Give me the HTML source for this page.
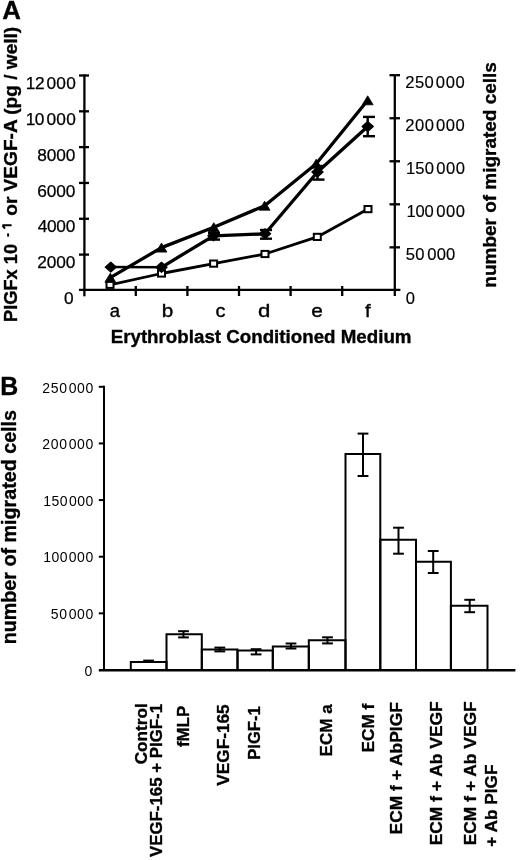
<!DOCTYPE html>
<html><head><meta charset="utf-8"><title>Figure</title>
<style>html,body{margin:0;padding:0;background:#fff;width:520px;height:860px;overflow:hidden}svg{display:block;will-change:transform}text{font-family:"Liberation Sans",sans-serif}</style>
</head><body>
<svg width="520" height="860" viewBox="0 0 520 860">
<rect width="520" height="860" fill="#fff"/>
<g stroke="#000" stroke-width="2.3" fill="none" stroke-linecap="butt">
<line x1="84.4" y1="74.4" x2="84.4" y2="296.3"/>
<line x1="79" y1="75.5" x2="89" y2="75.5"/>
<line x1="79" y1="111.32" x2="89" y2="111.32"/>
<line x1="79" y1="147.14" x2="89" y2="147.14"/>
<line x1="79" y1="182.96" x2="89" y2="182.96"/>
<line x1="79" y1="218.78" x2="89" y2="218.78"/>
<line x1="79" y1="254.6" x2="89" y2="254.6"/>
<line x1="79" y1="289.9" x2="400.4" y2="289.9"/>
<line x1="394.8" y1="75.2" x2="394.8" y2="296"/>
<line x1="389.5" y1="75.2" x2="400" y2="75.2"/>
<line x1="389.5" y1="118.24" x2="400" y2="118.24"/>
<line x1="389.5" y1="161.28" x2="400" y2="161.28"/>
<line x1="389.5" y1="204.32" x2="400" y2="204.32"/>
<line x1="389.5" y1="247.36" x2="400" y2="247.36"/>
<line x1="135.8" y1="286" x2="135.8" y2="296"/>
<line x1="187.4" y1="286" x2="187.4" y2="296"/>
<line x1="239.0" y1="286" x2="239.0" y2="296"/>
<line x1="290.6" y1="286" x2="290.6" y2="296"/>
<line x1="342.2" y1="286" x2="342.2" y2="296"/>
</g>
<polyline points="110,284.8 161.5,273.5 213.6,263.6 265,254 317.3,236.9 368,209.1" fill="none" stroke="#000" stroke-width="2.8" stroke-linejoin="round"/>
<polyline points="110.3,277.7 161.5,247.6 213.8,227.2 264.6,205.7 316.2,163.7 367.7,100.3" fill="none" stroke="#000" stroke-width="3.3" stroke-linejoin="round"/>
<polyline points="110.8,267.1 161.5,267.3" fill="none" stroke="#000" stroke-width="2.5"/>
<polyline points="161.5,267.3 213.5,235.8 265,233.8 317.5,172 367.7,126.5" fill="none" stroke="#000" stroke-width="3.3" stroke-linejoin="round"/>
<g stroke="#000" stroke-width="2.4"><line x1="213.5" y1="233.0" x2="213.5" y2="239.6"/><line x1="208" y1="233.0" x2="220" y2="233.0"/><line x1="208" y1="239.6" x2="220" y2="239.6"/></g>
<g stroke="#000" stroke-width="2.4"><line x1="265" y1="230.0" x2="265" y2="238.7"/><line x1="260" y1="230.0" x2="272" y2="230.0"/><line x1="260" y1="238.7" x2="272" y2="238.7"/></g>
<g stroke="#000" stroke-width="2.4"><line x1="317.5" y1="166.0" x2="317.5" y2="179.6"/><line x1="312.5" y1="166.0" x2="324.5" y2="166.0"/><line x1="312.5" y1="179.6" x2="324.5" y2="179.6"/></g>
<g stroke="#000" stroke-width="2.4"><line x1="367.7" y1="116.9" x2="367.7" y2="136.2"/><line x1="363" y1="116.9" x2="375" y2="116.9"/><line x1="363" y1="136.2" x2="375" y2="136.2"/></g>
<rect x="106.5" y="281.7" width="7" height="6.2" fill="#fff" stroke="#000" stroke-width="2"/>
<rect x="158" y="270.4" width="7" height="6.2" fill="#fff" stroke="#000" stroke-width="2"/>
<rect x="210.1" y="260.5" width="7" height="6.2" fill="#fff" stroke="#000" stroke-width="2"/>
<rect x="261.5" y="250.9" width="7" height="6.2" fill="#fff" stroke="#000" stroke-width="2"/>
<rect x="313.8" y="233.8" width="7" height="6.2" fill="#fff" stroke="#000" stroke-width="2"/>
<rect x="364.5" y="206" width="7" height="6.2" fill="#fff" stroke="#000" stroke-width="2"/>
<polygon points="110.3,273.2 115.7,282.2 104.9,282.2" fill="#000" stroke="#000" stroke-width="0.8" stroke-linejoin="round"/>
<polygon points="161.5,243.1 166.9,252.1 156.1,252.1" fill="#000" stroke="#000" stroke-width="0.8" stroke-linejoin="round"/>
<polygon points="213.8,222.7 219.2,231.7 208.4,231.7" fill="#000" stroke="#000" stroke-width="0.8" stroke-linejoin="round"/>
<polygon points="264.6,201.2 270,210.2 259.2,210.2" fill="#000" stroke="#000" stroke-width="0.8" stroke-linejoin="round"/>
<polygon points="316.2,159.2 321.6,168.2 310.8,168.2" fill="#000" stroke="#000" stroke-width="0.8" stroke-linejoin="round"/>
<polygon points="367.7,95.8 373.1,104.8 362.3,104.8" fill="#000" stroke="#000" stroke-width="0.8" stroke-linejoin="round"/>
<polygon points="110.8,262.1 116.4,267.1 110.8,272.1 105.2,267.1" fill="#000" stroke="#000" stroke-width="1.2" stroke-linejoin="round"/>
<polygon points="161.5,262.3 167.1,267.3 161.5,272.3 155.9,267.3" fill="#000" stroke="#000" stroke-width="1.2" stroke-linejoin="round"/>
<polygon points="213.5,230.8 219.1,235.8 213.5,240.8 207.9,235.8" fill="#000" stroke="#000" stroke-width="1.2" stroke-linejoin="round"/>
<polygon points="265,228.8 270.6,233.8 265,238.8 259.4,233.8" fill="#000" stroke="#000" stroke-width="1.2" stroke-linejoin="round"/>
<polygon points="317.5,167 323.1,172 317.5,177 311.9,172" fill="#000" stroke="#000" stroke-width="1.2" stroke-linejoin="round"/>
<polygon points="367.7,121.5 373.3,126.5 367.7,131.5 362.1,126.5" fill="#000" stroke="#000" stroke-width="1.2" stroke-linejoin="round"/>
<g stroke="#000" stroke-width="2" fill="none">
<line x1="104" y1="385.8" x2="104" y2="670"/>
<line x1="98.8" y1="386.8" x2="104" y2="386.8"/>
<line x1="98.8" y1="443.44" x2="104" y2="443.44"/>
<line x1="98.8" y1="500.08" x2="104" y2="500.08"/>
<line x1="98.8" y1="556.72" x2="104" y2="556.72"/>
<line x1="98.8" y1="613.36" x2="104" y2="613.36"/>
<line x1="98.8" y1="670.3" x2="515.4" y2="670.3" stroke-width="2.4"/>
<polyline points="130.8,670 130.8,662.1 166.5,662.1 166.5,670"/>
<polyline points="166.5,670 166.5,634.2 201.8,634.2 201.8,670"/>
<polyline points="201.8,670 201.8,649.5 237.5,649.5 237.5,670"/>
<polyline points="237.5,670 237.5,650.6 272.8,650.6 272.8,670"/>
<polyline points="272.8,670 272.8,646.4 308.8,646.4 308.8,670"/>
<polyline points="308.8,670 308.8,640.2 345.5,640.2 345.5,670"/>
<polyline points="345.5,670 345.5,454.0 380.3,454.0 380.3,670"/>
<polyline points="380.3,670 380.3,539.8 416.0,539.8 416.0,670"/>
<polyline points="416.0,670 416.0,561.8 450.9,561.8 450.9,670"/>
<polyline points="450.9,670 450.9,605.8 487.5,605.8 487.5,670"/>
</g>
<g stroke="#000" stroke-width="2"><line x1="148.6" y1="660.6" x2="148.6" y2="662.0"/><line x1="143.2" y1="660.6" x2="154" y2="660.6"/><line x1="143.2" y1="662.0" x2="154" y2="662.0"/></g>
<g stroke="#000" stroke-width="2"><line x1="183.5" y1="631.2" x2="183.5" y2="637.4"/><line x1="178.1" y1="631.2" x2="188.9" y2="631.2"/><line x1="178.1" y1="637.4" x2="188.9" y2="637.4"/></g>
<g stroke="#000" stroke-width="2"><line x1="219.8" y1="647.6" x2="219.8" y2="651.4"/><line x1="214.4" y1="647.6" x2="225.2" y2="647.6"/><line x1="214.4" y1="651.4" x2="225.2" y2="651.4"/></g>
<g stroke="#000" stroke-width="2"><line x1="256.1" y1="649.2" x2="256.1" y2="654.4"/><line x1="250.7" y1="649.2" x2="261.5" y2="649.2"/><line x1="250.7" y1="654.4" x2="261.5" y2="654.4"/></g>
<g stroke="#000" stroke-width="2"><line x1="291.0" y1="643.5" x2="291.0" y2="648.5"/><line x1="285.6" y1="643.5" x2="296.4" y2="643.5"/><line x1="285.6" y1="648.5" x2="296.4" y2="648.5"/></g>
<g stroke="#000" stroke-width="2"><line x1="327.5" y1="637.3" x2="327.5" y2="643.4"/><line x1="322.1" y1="637.3" x2="332.9" y2="637.3"/><line x1="322.1" y1="643.4" x2="332.9" y2="643.4"/></g>
<g stroke="#000" stroke-width="2"><line x1="363.0" y1="433.6" x2="363.0" y2="476.0"/><line x1="357.6" y1="433.6" x2="368.4" y2="433.6"/><line x1="357.6" y1="476.0" x2="368.4" y2="476.0"/></g>
<g stroke="#000" stroke-width="2"><line x1="398.5" y1="527.7" x2="398.5" y2="553.7"/><line x1="393.1" y1="527.7" x2="403.9" y2="527.7"/><line x1="393.1" y1="553.7" x2="403.9" y2="553.7"/></g>
<g stroke="#000" stroke-width="2"><line x1="433.2" y1="551.0" x2="433.2" y2="573.0"/><line x1="427.8" y1="551.0" x2="438.6" y2="551.0"/><line x1="427.8" y1="573.0" x2="438.6" y2="573.0"/></g>
<g stroke="#000" stroke-width="2"><line x1="469.7" y1="599.8" x2="469.7" y2="612.2"/><line x1="464.3" y1="599.8" x2="475.1" y2="599.8"/><line x1="464.3" y1="612.2" x2="475.1" y2="612.2"/></g>
<g font-family="Liberation Sans, sans-serif" fill="#000" stroke="#000" stroke-width="0.35" stroke-linejoin="round">
<text x="2.25" y="18.8" font-size="25" font-weight="bold" textLength="18.65" lengthAdjust="spacingAndGlyphs">A</text>
<text transform="translate(16.6,321.88) rotate(-90)" font-size="19" font-weight="bold" textLength="77.91" lengthAdjust="spacingAndGlyphs">PlGFx 10</text>
<path d="M7.1 235 H9.1" stroke="#000" stroke-width="3.2" fill="none"/>
<path d="M11.6 225.3 H2.3 M2.6 225.6 L5.0 228.6" stroke="#000" stroke-width="2.1" fill="none" stroke-linecap="butt"/>
<text transform="translate(16.5,215.76) rotate(-90)" font-size="19" font-weight="bold" textLength="188.97" lengthAdjust="spacingAndGlyphs">or VEGF-A (pg / well)</text>
<text x="25.8" y="89.1" font-size="17.3" letter-spacing="-0.44" stroke-width="0.25">12</text>
<text x="46.41" y="89.1" font-size="17.3" letter-spacing="0.25" stroke-width="0.25">000</text>
<text x="25.8" y="124.92" font-size="17.3" letter-spacing="-0.7" stroke-width="0.25">10</text>
<text x="46.41" y="124.92" font-size="17.3" letter-spacing="0.25" stroke-width="0.25">000</text>
<text x="37.22" y="160.74" font-size="17.3" letter-spacing="-0.14" stroke-width="0.25">8000</text>
<text x="37.13" y="196.56" font-size="17.3" letter-spacing="-0.11" stroke-width="0.25">6000</text>
<text x="37.65" y="232.38" font-size="17.3" letter-spacing="-0.28" stroke-width="0.25">4000</text>
<text x="37.13" y="268.2" font-size="17.3" letter-spacing="-0.11" stroke-width="0.25">2000</text>
<text x="63.91" y="304.02" font-size="17.3" stroke-width="0.25">0</text>
<text x="405.27" y="88.3" font-size="16.6" letter-spacing="0.39" stroke-width="0.15">250</text>
<text x="435.84" y="88.3" font-size="16.6" letter-spacing="0.65" stroke-width="0.15">000</text>
<text x="405.37" y="131.34" font-size="16.6" letter-spacing="0.44" stroke-width="0.15">200</text>
<text x="436.04" y="131.34" font-size="16.6" letter-spacing="0.55" stroke-width="0.15">000</text>
<text x="405.95" y="174.38" font-size="16.6" letter-spacing="0.14" stroke-width="0.15">150</text>
<text x="436.24" y="174.38" font-size="16.6" letter-spacing="0.55" stroke-width="0.15">000</text>
<text x="406.45" y="217.42" font-size="16.6" letter-spacing="-0.21" stroke-width="0.15">100</text>
<text x="436.24" y="217.42" font-size="16.6" letter-spacing="0.55" stroke-width="0.15">000</text>
<text x="405.74" y="260.46" font-size="16.6" letter-spacing="0.22" stroke-width="0.15">50</text>
<text x="427.34" y="260.46" font-size="16.6" letter-spacing="0.15" stroke-width="0.15">000</text>
<text x="405.74" y="303.5" font-size="16.6" stroke-width="0.15">0</text>
<text transform="translate(495.8,287.63) rotate(-90)" font-size="19" font-weight="bold" textLength="225.52" lengthAdjust="spacingAndGlyphs">number of migrated cells</text>
<text x="109.76" y="317.1" font-size="17.5" textLength="10.26" lengthAdjust="spacingAndGlyphs">a</text>
<text x="161.66" y="317.1" font-size="17.5" textLength="11.49" lengthAdjust="spacingAndGlyphs">b</text>
<text x="215.4" y="317.1" font-size="17.5" textLength="10" lengthAdjust="spacingAndGlyphs">c</text>
<text x="258.01" y="317.1" font-size="17.5" textLength="12.36" lengthAdjust="spacingAndGlyphs">d</text>
<text x="311.17" y="317.1" font-size="17.5" textLength="11.6" lengthAdjust="spacingAndGlyphs">e</text>
<text x="365.09" y="317.1" font-size="17.5" textLength="5.66" lengthAdjust="spacingAndGlyphs">f</text>
<text x="110.68" y="343.4" font-size="18" font-weight="bold" textLength="300.86" lengthAdjust="spacingAndGlyphs">Erythroblast Conditioned Medium</text>
<text x="0.28" y="395" font-size="26" font-weight="bold" textLength="18" lengthAdjust="spacingAndGlyphs">B</text>
<text transform="translate(15.8,644.28) rotate(-90)" font-size="20" font-weight="bold" textLength="234.3" lengthAdjust="spacingAndGlyphs">number of migrated cells</text>
<text x="42.3" y="392.5" font-size="14" letter-spacing="0.64" stroke-width="0">250</text>
<text x="68.74" y="392.5" font-size="14" letter-spacing="0.57" stroke-width="0">000</text>
<text x="42.3" y="449.14" font-size="14" letter-spacing="0.64" stroke-width="0">200</text>
<text x="68.74" y="449.14" font-size="14" letter-spacing="0.57" stroke-width="0">000</text>
<text x="43.25" y="505.78" font-size="14" letter-spacing="0.42" stroke-width="0">150</text>
<text x="69.04" y="505.78" font-size="14" letter-spacing="0.42" stroke-width="0">000</text>
<text x="43.25" y="562.42" font-size="14" letter-spacing="0.42" stroke-width="0">100</text>
<text x="68.74" y="562.42" font-size="14" letter-spacing="0.57" stroke-width="0">000</text>
<text x="50.74" y="619.06" font-size="14" letter-spacing="0.61" stroke-width="0">50</text>
<text x="68.74" y="619.06" font-size="14" letter-spacing="0.57" stroke-width="0">000</text>
<text x="84.44" y="675.7" font-size="14" stroke-width="0">0</text>
<text transform="translate(146.8,764.29) rotate(-90)" font-size="17" font-weight="bold" textLength="61.09" lengthAdjust="spacingAndGlyphs">Control</text>
<text transform="translate(162.3,857.08) rotate(-90)" font-size="17" font-weight="bold" textLength="153.13" lengthAdjust="spacingAndGlyphs">VEGF-165 + PlGF-1</text>
<text transform="translate(188.5,747.05) rotate(-90)" font-size="17" font-weight="bold" textLength="41.23" lengthAdjust="spacingAndGlyphs">fMLP</text>
<text transform="translate(228.9,785.69) rotate(-90)" font-size="17" font-weight="bold" textLength="81.3" lengthAdjust="spacingAndGlyphs">VEGF-165</text>
<text transform="translate(259.9,759.68) rotate(-90)" font-size="17" font-weight="bold" textLength="53.33" lengthAdjust="spacingAndGlyphs">PlGF-1</text>
<text transform="translate(332.3,756.41) rotate(-90)" font-size="17" font-weight="bold" textLength="52.16" lengthAdjust="spacingAndGlyphs">ECM a</text>
<text transform="translate(373.7,752.41) rotate(-90)" font-size="17" font-weight="bold" textLength="48.58" lengthAdjust="spacingAndGlyphs">ECM f</text>
<text transform="translate(402.4,834.43) rotate(-90)" font-size="17" font-weight="bold" textLength="132.28" lengthAdjust="spacingAndGlyphs">ECM f + AbPlGF</text>
<text transform="translate(441.9,845.33) rotate(-90)" font-size="17" font-weight="bold" textLength="144.03" lengthAdjust="spacingAndGlyphs">ECM f + Ab VEGF</text>
<text transform="translate(475.5,845.33) rotate(-90)" font-size="17" font-weight="bold" textLength="144.03" lengthAdjust="spacingAndGlyphs">ECM f + Ab VEGF</text>
<text transform="translate(497,846.79) rotate(-90)" font-size="17" font-weight="bold" textLength="82.28" lengthAdjust="spacingAndGlyphs">+ Ab PlGF</text>
</g>
</svg>
</body></html>
